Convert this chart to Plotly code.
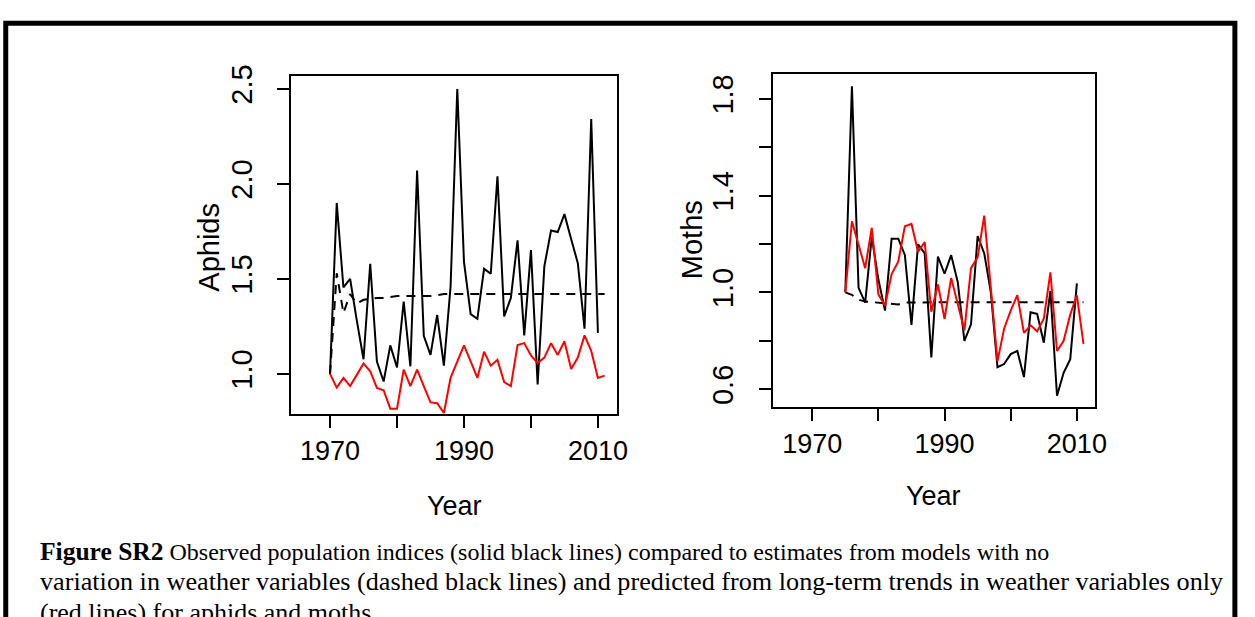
import plotly.graph_objects as go

# ---------------- data ----------------
aphid_obs_years = list(range(1970, 2011))
aphid_obs = [1.00, 1.90, 1.455, 1.50, 1.28, 1.077, 1.58, 1.065, 0.96, 1.15,
             1.034, 1.38, 1.04, 2.07, 1.20, 1.10, 1.31, 1.043, 1.46, 2.50,
             1.59, 1.315, 1.29, 1.553, 1.528, 2.04, 1.303, 1.40, 1.703, 1.203,
             1.652, 0.945, 1.566, 1.755, 1.747, 1.841, 1.71, 1.583, 1.238, 2.341,
             1.216]
aphid_model_years = list(range(1970, 2012))
aphid_trend = [1.00, 0.928, 0.979, 0.936, 0.995, 1.055, 1.014, 0.926, 0.914, 0.817,
               0.817, 1.022, 0.936, 1.022, 0.936, 0.85, 0.846, 0.794, 0.979, 1.062,
               1.150, 1.066, 0.979, 1.117, 1.043, 1.074, 0.957, 0.936, 1.152, 1.162,
               1.097, 1.057, 1.086, 1.162, 1.10, 1.172, 1.026, 1.086, 1.203, 1.121,
               0.979, 0.991]
aphid_noweather = [1.00, 1.53, 1.32, 1.42, 1.37, 1.39, 1.395, 1.40, 1.40, 1.405,
                   1.41, 1.41, 1.41, 1.41, 1.41, 1.41, 1.415, 1.42, 1.42, 1.42,
                   1.42, 1.42, 1.42, 1.42, 1.42, 1.42, 1.42, 1.42, 1.42, 1.42,
                   1.42, 1.42, 1.42, 1.42, 1.42, 1.42, 1.42, 1.42, 1.42, 1.42,
                   1.42, 1.42]

moth_obs_years = list(range(1975, 2011))
moth_obs = [1.00, 1.852, 1.019, 0.958, 1.23, 1.053, 0.925, 1.222, 1.222, 1.155,
            0.866, 1.199, 1.161, 0.731, 1.148, 1.077, 1.154, 1.042, 0.80, 0.868,
            1.233, 1.161, 1.00, 0.691, 0.704, 0.745, 0.758, 0.65, 0.918, 0.911,
            0.792, 1.006, 0.573, 0.668, 0.724, 1.037]
moth_model_years = list(range(1975, 2012))
moth_trend = [1.00, 1.294, 1.197, 1.10, 1.267, 0.992, 0.945, 1.076, 1.127, 1.273,
              1.283, 1.168, 1.208, 0.92, 1.033, 0.89, 1.06, 0.948, 0.843, 1.10,
              1.145, 1.317, 1.03, 0.715, 0.85, 0.925, 0.989, 0.833, 0.864, 0.839,
              0.891, 1.083, 0.758, 0.80, 0.908, 0.988, 0.787]
moth_noweather = [1.00, 0.99, 0.97, 0.962, 0.96, 0.958, 0.955, 0.952, 0.95, 0.958,
                  0.959, 0.959, 0.959, 0.959, 0.959, 0.959, 0.959, 0.959, 0.959, 0.959,
                  0.959, 0.959, 0.959, 0.959, 0.959, 0.959, 0.959, 0.959, 0.959, 0.959,
                  0.959, 0.959, 0.959, 0.959, 0.959, 0.959, 0.959]

x_tick_vals = [1970, 1980, 1990, 2000, 2010]
x_tick_text = ["1970", "", "1990", "", "2010"]
aphid_tick_vals = [1.0, 1.5, 2.0, 2.5]
aphid_tick_text = ["1.0", "1.5", "2.0", "2.5"]
moth_tick_vals = [0.6, 0.8, 1.0, 1.2, 1.4, 1.6, 1.8]
moth_tick_text = ["0.6", "", "1.0", "", "1.4", "", "1.8"]

caption_bold = "Figure SR2"
caption_lines = [
    " Observed population indices (solid black lines) compared to estimates from models with no",
    "variation in weather variables (dashed black lines) and predicted from long-term trends in weather variables only",
    "(red lines) for aphids and moths",
]

# ---------------- figure ----------------
W, H = 1255, 617
SANS = "Liberation Sans, Arial, sans-serif"
SERIF = "Liberation Serif, Times New Roman, serif"

fig = go.Figure()

def add_panel(xa, ya, oy, ov, my, tr, nw):
    fig.add_trace(go.Scatter(x=my, y=nw, mode="lines", xaxis=xa, yaxis=ya,
                             line=dict(color="black", width=2, dash="9px,7px"),
                             showlegend=False, hoverinfo="skip"))
    fig.add_trace(go.Scatter(x=oy, y=ov, mode="lines", xaxis=xa, yaxis=ya,
                             line=dict(color="black", width=2),
                             showlegend=False))
    fig.add_trace(go.Scatter(x=my, y=tr, mode="lines", xaxis=xa, yaxis=ya,
                             line=dict(color="#ff0000", width=2),
                             showlegend=False))

add_panel("x", "y", aphid_obs_years, aphid_obs, aphid_model_years, aphid_trend, aphid_noweather)
add_panel("x2", "y2", moth_obs_years, moth_obs, moth_model_years, moth_trend, moth_noweather)

def px_x(v):
    return v / W

def px_y(v):
    return 1 - v / H

axis_common = dict(showgrid=False, zeroline=False, showline=True, mirror=True,
                   linecolor="black", linewidth=2, ticks="outside", ticklen=12,
                   tickwidth=2, tickcolor="black")
xfont = dict(family=SANS, size=27, color="black")
yfont = dict(family=SANS, size=29, color="black")

fig.update_layout(
    width=W, height=H,
    margin=dict(l=0, r=0, t=0, b=0),
    paper_bgcolor="white", plot_bgcolor="white",
    xaxis=dict(domain=[px_x(294), px_x(623.3)], range=[1964.2, 2012.9],
               anchor="y", tickmode="array", tickvals=x_tick_vals, ticktext=x_tick_text,
               ticklabelstandoff=-1, tickfont=xfont, **axis_common),
    yaxis=dict(domain=[px_y(410.7), px_y(66)], range=[0.787, 2.569],
               anchor="x", tickmode="array", tickvals=aphid_tick_vals, ticktext=aphid_tick_text,
               tickangle=-90, ticklabelstandoff=14, tickfont=yfont, **axis_common),
    xaxis2=dict(domain=[px_x(780), px_x(1105.7)], range=[1964.0, 2012.76],
                anchor="y2", tickmode="array", tickvals=x_tick_vals, ticktext=x_tick_text,
                ticklabelstandoff=-1, tickfont=xfont, **axis_common),
    yaxis2=dict(domain=[px_y(403.3), px_y(64)], range=[0.526, 1.903],
                anchor="x2", tickmode="array", tickvals=moth_tick_vals, ticktext=moth_tick_text,
                tickangle=-90, ticklabelstandoff=14, tickfont=yfont, **axis_common),
)

ann = []
ann.append(dict(text="Aphids", x=px_x(211), y=px_y(240), xref="paper", yref="paper",
                textangle=-90, showarrow=False, xanchor="center", yanchor="middle",
                font=dict(family=SANS, size=29, color="black")))
ann.append(dict(text="Moths", x=px_x(699), y=px_y(233), xref="paper", yref="paper",
                textangle=-90, showarrow=False, xanchor="center", yanchor="middle",
                font=dict(family=SANS, size=29, color="black")))
ann.append(dict(text="Year", x=px_x(459), y=px_y(504), xref="paper", yref="paper",
                showarrow=False, xanchor="center", yanchor="middle",
                font=dict(family=SANS, size=27, color="black")))
ann.append(dict(text="Year", x=px_x(943), y=px_y(494), xref="paper", yref="paper",
                showarrow=False, xanchor="center", yanchor="middle",
                font=dict(family=SANS, size=27, color="black")))
line_sizes = [24, 26.2, 26]
for i, line in enumerate(caption_lines):
    txt = line
    if i == 0:
        txt = "<span style='font-size:25.5px'><b>" + caption_bold + "</b></span>" + line
    ann.append(dict(text=txt, x=px_x(38), y=px_y(550 + 31 * i), xref="paper", yref="paper",
                    showarrow=False, xanchor="left", yanchor="middle",
                    font=dict(family=SERIF, size=line_sizes[i], color="black")))
fig.update_layout(annotations=ann)

fig.add_shape(type="rect", xref="paper", yref="paper",
              x0=px_x(5.8), x1=px_x(1246.8), y0=-0.2, y1=px_y(12.5),
              line=dict(color="black", width=5), fillcolor="rgba(0,0,0,0)")

fig.write_html("out.html",
               post_script="document.body.style.margin='0';document.body.style.overflow='hidden';")
